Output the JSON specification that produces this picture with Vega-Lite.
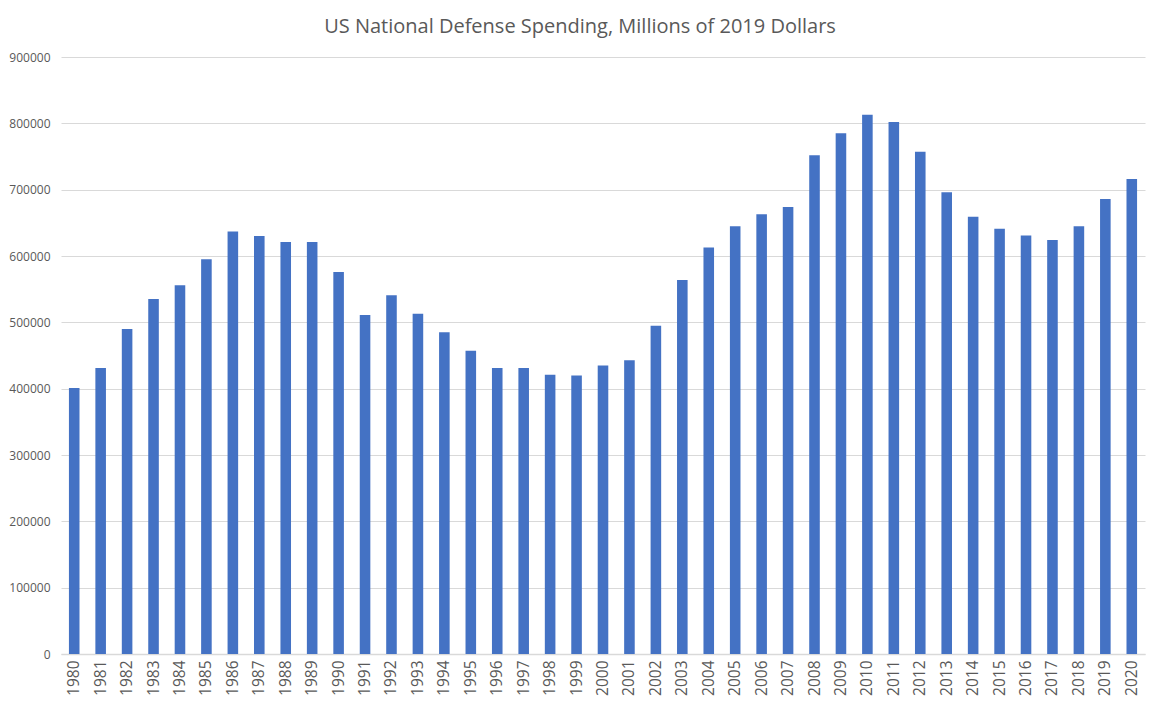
{
  "$schema": "https://vega.github.io/schema/vega-lite/v6.json",
  "autosize": {"type": "none"},
  "padding": {"left": 61, "top": 57, "right": 15, "bottom": 56},
  "width": 1084,
  "height": 597,
  "background": "white",
  "title": {
    "text": "US National Defense Spending, Millions of 2019 Dollars",
    "font": "Open Sans",
    "fontSize": 20,
    "fontWeight": "normal",
    "color": "#595959",
    "anchor": "middle",
    "dx": -23,
    "offset": 14
  },
  "data": {
    "values": [
      {"year": "1980", "spending": 401000},
      {"year": "1981", "spending": 431000},
      {"year": "1982", "spending": 490000},
      {"year": "1983", "spending": 535000},
      {"year": "1984", "spending": 556000},
      {"year": "1985", "spending": 595000},
      {"year": "1986", "spending": 637000},
      {"year": "1987", "spending": 630000},
      {"year": "1988", "spending": 621000},
      {"year": "1989", "spending": 621000},
      {"year": "1990", "spending": 576000},
      {"year": "1991", "spending": 511000},
      {"year": "1992", "spending": 541000},
      {"year": "1993", "spending": 513000},
      {"year": "1994", "spending": 485000},
      {"year": "1995", "spending": 457000},
      {"year": "1996", "spending": 431000},
      {"year": "1997", "spending": 431000},
      {"year": "1998", "spending": 421000},
      {"year": "1999", "spending": 420000},
      {"year": "2000", "spending": 435000},
      {"year": "2001", "spending": 443000},
      {"year": "2002", "spending": 495000},
      {"year": "2003", "spending": 564000},
      {"year": "2004", "spending": 613000},
      {"year": "2005", "spending": 645000},
      {"year": "2006", "spending": 663000},
      {"year": "2007", "spending": 674000},
      {"year": "2008", "spending": 752000},
      {"year": "2009", "spending": 785000},
      {"year": "2010", "spending": 813000},
      {"year": "2011", "spending": 802000},
      {"year": "2012", "spending": 757000},
      {"year": "2013", "spending": 696000},
      {"year": "2014", "spending": 659000},
      {"year": "2015", "spending": 641000},
      {"year": "2016", "spending": 631000},
      {"year": "2017", "spending": 624000},
      {"year": "2018", "spending": 645000},
      {"year": "2019", "spending": 686000},
      {"year": "2020", "spending": 716000}
    ]
  },
  "mark": {"type": "bar", "color": "#4472c4"},
  "encoding": {
    "x": {
      "field": "year",
      "type": "ordinal",
      "scale": {"paddingInner": 0.6, "paddingOuter": 0.3},
      "axis": {
        "title": null,
        "labelAngle": -90,
        "labelFont": "Open Sans",
        "labelFontSize": 15.5,
        "labelColor": "#595959",
        "labelPadding": 6,
        "ticks": false,
        "domain": true,
        "domainColor": "#d9d9d9",
        "domainWidth": 1.5
      }
    },
    "y": {
      "field": "spending",
      "type": "quantitative",
      "scale": {"domain": [0, 900000], "nice": false},
      "axis": {
        "title": null,
        "values": [0, 100000, 200000, 300000, 400000, 500000, 600000, 700000, 800000, 900000],
        "format": "d",
        "labelFont": "Open Sans",
        "labelFontSize": 12,
        "labelColor": "#595959",
        "labelPadding": 11,
        "ticks": false,
        "domain": false,
        "grid": true,
        "gridColor": "#d9d9d9",
        "gridWidth": 1
      }
    }
  },
  "config": {"view": {"stroke": null}}
}
